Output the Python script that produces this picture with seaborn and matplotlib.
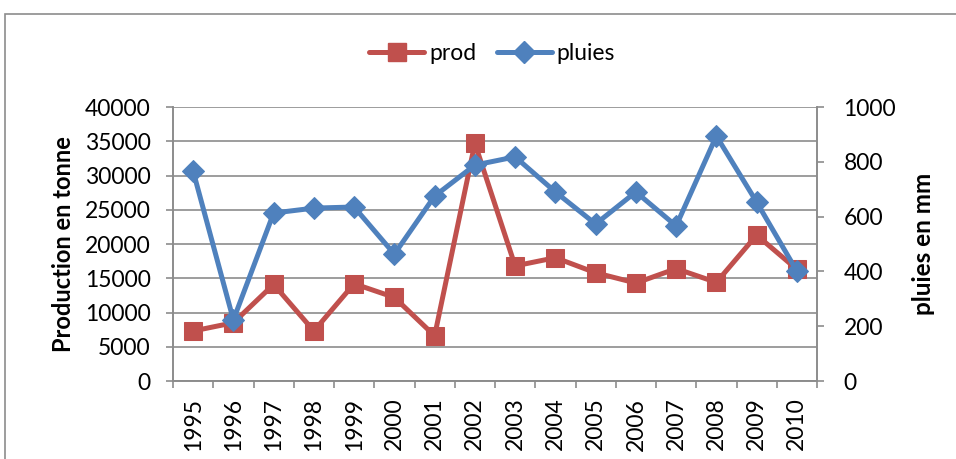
import numpy as np
import pandas as pd
import matplotlib
matplotlib.use("Agg")
import matplotlib.pyplot as plt
from matplotlib.patches import Rectangle
import seaborn as sns

years = ["1995", "1996", "1997", "1998", "1999", "2000", "2001", "2002",
         "2003", "2004", "2005", "2006", "2007", "2008", "2009", "2010"]
prod = [7300, 8500, 14100, 7300, 14200, 12200, 6600, 34700,
        16800, 18000, 15800, 14300, 16400, 14400, 21300, 16300]
pluies = [766, 223, 613, 631, 635, 463, 675, 788,
          818, 690, 573, 690, 566, 894, 653, 401]

RED = "#C0504D"
BLUE = "#4F81BD"
GRID = "#8C8C8C"

sns.set_theme(style="white")
plt.rcParams["font.family"] = ["Lato", "DejaVu Sans"]
plt.rcParams["font.size"] = 16.5
plt.rcParams["text.color"] = "black"
plt.rcParams["xtick.color"] = "black"
plt.rcParams["ytick.color"] = "black"
plt.rcParams["axes.labelcolor"] = "black"

df = pd.DataFrame({"pos": np.arange(len(years)), "prod": prod, "pluies": pluies})

fig = plt.figure(figsize=(9.56, 4.59), dpi=100)
ax = fig.add_axes([173 / 956, 1 - 381 / 459, (817 - 173) / 956, (381 - 107) / 459])
ax2 = ax.twinx()

# outer chart frame
fig.patches.append(Rectangle((5 / 956, -0.05), 1.2, 1 - 14 / 459 + 0.05,
                             transform=fig.transFigure, fill=False,
                             edgecolor="#8C8C8C", linewidth=1.2))

sns.lineplot(data=df, x="pos", y="prod", ax=ax, color=RED, linewidth=3.6,
             marker="s", markersize=12.5, markeredgecolor=RED, zorder=3)
sns.lineplot(data=df, x="pos", y="pluies", ax=ax2, color=BLUE, linewidth=3.6,
             marker="D", markersize=11.5, markeredgecolor=BLUE, zorder=4)

ax.set_ylim(0, 40000)
ax.set_yticks(np.arange(0, 40001, 5000))
ax2.set_ylim(0, 1000)
ax2.set_yticks(np.arange(0, 1001, 200))
ax.set_xlim(-0.5, len(years) - 0.5)
ax.set_xticks(np.arange(len(years)))
ax.set_xticklabels(years, rotation=90)
ax.set_xticks(np.arange(-0.5, len(years), 1), minor=True)
ax.tick_params(axis="x", which="major", length=0, pad=12, labelsize=16.5)
ax.tick_params(axis="x", which="minor", length=5, width=1.2, color=GRID,
               direction="out", bottom=True)
ax.tick_params(axis="y", length=5, width=1.2, color=GRID, direction="out",
               left=True, labelsize=16.5, pad=11)
ax2.tick_params(axis="y", length=5, width=1.2, color=GRID, direction="out",
                right=True, labelsize=16.5, pad=14)

ax.grid(axis="y", color=GRID, linewidth=1.2)
ax.set_axisbelow(True)
ax.set_xlabel("")
ax.set_ylabel("Production en tonne", fontweight="bold", fontsize=17)
ax2.set_ylabel("pluies en mm", fontweight="bold", fontsize=17.5)
ax.yaxis.set_label_coords(-0.152, 0.5)
ax2.yaxis.set_label_coords(1.148, 0.5)

for a in (ax, ax2):
    a.spines["top"].set_visible(False)
    for side in ("left", "right", "bottom"):
        a.spines[side].set_color(GRID)
        a.spines[side].set_linewidth(1.2)

handles = [
    plt.Line2D([], [], color=RED, linewidth=3.6, marker="s", markersize=12.5),
    plt.Line2D([], [], color=BLUE, linewidth=3.6, marker="D", markersize=11.5),
]
fig.legend(handles, ["prod", "pluies"], loc="center", ncol=2,
           bbox_to_anchor=(492 / 956, 1 - 54 / 459), frameon=False,
           fontsize=16.5, handlelength=2.4, handletextpad=0.2, columnspacing=0.9)

fig.savefig("out.png", dpi=100)
